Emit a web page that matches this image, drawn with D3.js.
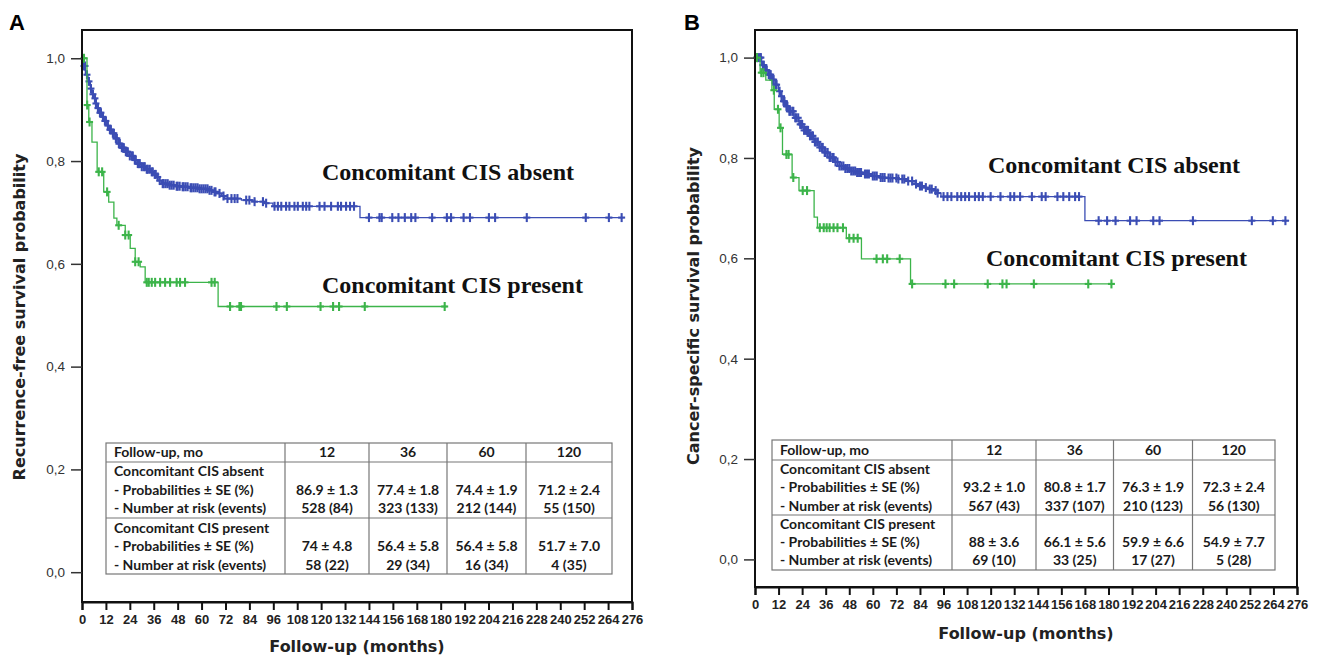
<!DOCTYPE html>
<html><head><meta charset="utf-8">
<script src="https://cdn.jsdelivr.net/npm/d3@7"></script>
<style>body{margin:0;background:#fff}svg{display:block}</style>
</head><body><svg id="c" width="1318" height="659"></svg>
<script>
// ---------------- DATA ----------------
const xTickValues = [0,12,24,36,48,60,72,84,96,108,120,132,144,156,168,180,192,204,216,228,240,252,264,276];
const yTickValues = [0,0.2,0.4,0.6,0.8,1.0];
const groupLabels = ["Concomitant CIS absent","Concomitant CIS present"];

// Panel A: recurrence-free survival (step points [month, probability])
const rfsAbsentSteps = [[0,1.0],[0.8,0.985],[1.7,0.968],[3,0.955],[4.2,0.941],[5,0.93],[5.9,0.922],[6.8,0.912],[7.6,0.903],[8.8,0.894],[10,0.886],[11.3,0.878],[12.6,0.869],[13.8,0.861],[15,0.854],[16.7,0.844],[18.4,0.834],[20,0.826],[21.7,0.818],[23.8,0.81],[25.9,0.802],[28,0.795],[30,0.789],[32,0.784],[34.2,0.779],[36,0.774],[37.5,0.769],[38.8,0.762],[40,0.756],[43.3,0.753],[47,0.751],[50,0.75],[54,0.748],[58.3,0.746],[63.3,0.743],[66,0.74],[68.3,0.737],[70,0.732],[71.6,0.727],[80,0.724],[86.6,0.721],[91.6,0.718],[95.8,0.712],[139.5,0.69]];
const rfsAbsentEnd = 271.8;
const rfsAbsentCensored = [1,1.5,2.5,3.5,4.5,5.5,6.5,7,8,9,9.5,10.5,11.5,12,13,14,14.5,15.5,16,17,17.5,18.5,19,20,20.5,21,22,22.5,23,24,25,25.5,26.5,27,28,28.5,29,30,31,31.5,32.5,33,34,35,35.5,36.5,37,38,39,40.5,41,42,43,44,45,46,47.5,48,49,50.5,51,52,53,54.5,55,56,57,58,59,60,61,62,63,64,65,66.5,67,69,71,73,75,76.6,78,82.4,84,86.6,90.8,92.4,96.6,98.3,100,102.4,104.1,106.6,108.3,110.8,112.5,114.1,119.2,121.7,125,128.4,130,132.5,134.5,136.5,144,149.3,150.4,155.7,158.8,162,165.2,167.3,175.7,183.1,185.2,191.5,194.7,204.2,207.3,223.2,252.8,264.4,270.8];

const rfsPresentSteps = [[0,1.0],[2.5,0.909],[3.4,0.876],[5,0.837],[7.6,0.779],[10.9,0.74],[13.4,0.72],[16,0.689],[17.5,0.675],[21.7,0.656],[24.2,0.63],[26.7,0.604],[29.2,0.594],[31.7,0.564],[68.3,0.517]];
const rfsPresentEnd = 183;
const rfsPresentCensored = [1,2.6,3.8,8.4,10.1,12.6,18.4,21.7,23.4,26.7,28.4,32.5,33.5,35,36.7,39.2,41.7,44.2,47.5,49.2,51.7,65,66.6,74.3,79,79.8,97.6,102.8,119.7,126,129,141.9,182];

// Panel B: cancer-specific survival
const cssAbsentSteps = [[0,1.0],[3.4,0.985],[5,0.975],[6.9,0.966],[8.5,0.956],[10.3,0.946],[12,0.933],[13,0.923],[13.8,0.913],[15.5,0.903],[17.2,0.893],[19.8,0.88],[22.4,0.867],[25,0.855],[27.5,0.844],[30,0.832],[32.7,0.821],[35.3,0.811],[37.9,0.801],[40.5,0.792],[43,0.784],[45.6,0.779],[48.2,0.774],[51.6,0.771],[55,0.768],[59.3,0.764],[63.7,0.761],[68,0.76],[72.3,0.758],[77.5,0.754],[81,0.748],[83.5,0.744],[86,0.741],[88.6,0.738],[91.2,0.735],[93,0.73],[94.7,0.723],[168,0.675]];
const cssAbsentEnd = 272;
const cssAbsentCensored = [1,1.5,2.5,3,4,4.5,5.5,6,7,7.5,8,9,9.5,10.5,11,12.5,13.5,14.5,15,16,16.5,17.5,18,19,19.5,20.5,21,22,23,23.5,24,25,26,26.5,27,28,29,29.5,30.5,31,32,33,34,34.5,35.5,36,37,38,38.5,39.5,40,41,42,43,44,45,46,47,48,49,50,51,52,53,54,56,57,58,60,61,62,64,65,66,68,69,70,72,73,75,76,78,80,82,84,85,87,89,90,92,93,96,98,100,103,105,107,109,112,114,116,120,125,130,132,135,141,146,148,154,157,160,163,165,175,179.3,183.6,191,194.3,202.8,206,223,253,263.7,270.1];

const cssPresentSteps = [[0,1.0],[2.6,0.97],[5.5,0.955],[8.6,0.935],[9.8,0.897],[12.3,0.86],[14,0.807],[18.9,0.761],[22.4,0.735],[30.1,0.682],[31.8,0.661],[46.5,0.64],[54.2,0.599],[79.2,0.549]];
const cssPresentEnd = 183;
const cssPresentCensored = [1,3.2,4.3,9.6,11.7,13,16,17.1,19.5,24.3,26.5,33,35,36.5,38,40,42,44.8,48,50.2,52.3,61.9,65.1,67.3,73.7,80,97,101.4,118.5,126,128.1,142,169.7,181.5];

// Summary tables
const tableHeaderLabel = "Follow-up, mo";
const tableTimepoints = ["12","36","60","120"];
const tableRowLabels = ["Concomitant CIS absent","- Probabilities ± SE (%)","- Number at risk (events)","Concomitant CIS present","- Probabilities ± SE (%)","- Number at risk (events)"];
const rfsAbsentProb = ["86.9 ± 1.3","77.4 ± 1.8","74.4 ± 1.9","71.2 ± 2.4"];
const rfsAbsentRisk = ["528 (84)","323 (133)","212 (144)","55 (150)"];
const rfsPresentProb = ["74 ± 4.8","56.4 ± 5.8","56.4 ± 5.8","51.7 ± 7.0"];
const rfsPresentRisk = ["58 (22)","29 (34)","16 (34)","4 (35)"];
const cssAbsentProb = ["93.2 ± 1.0","80.8 ± 1.7","76.3 ± 1.9","72.3 ± 2.4"];
const cssAbsentRisk = ["567 (43)","337 (107)","210 (123)","56 (130)"];
const cssPresentProb = ["88 ± 3.6","66.1 ± 5.6","59.9 ± 6.6","54.9 ± 7.7"];
const cssPresentRisk = ["69 (10)","33 (25)","17 (27)","5 (28)"];

// ---------------- DRAWING ----------------
const svg = d3.select("#c");
const BLUE = "#3b4db4", GREEN = "#3cb44a";
const commaLocale = d3.formatLocale({decimal:",", thousands:".", grouping:[3], currency:["",""]});
const yFmt = commaLocale.format(".1f");
const SANS = "'DejaVu Sans','Liberation Sans',Arial,sans-serif";

function stepAt(steps, t){ let s = steps[0][1]; for(const p of steps){ if(p[0] <= t) s = p[1]; else break; } return s; }

function panel(cfg){
  const g = svg.append("g");
  const x = d3.scaleLinear().domain([0,276]).range([cfg.left, cfg.right]);
  const y = d3.scaleLinear().domain([cfg.yMin, cfg.yMax]).range([cfg.bottom, cfg.top]);

  // curves
  const line = d3.line().x(d=>x(d[0])).y(d=>y(d[1])).curve(d3.curveStepAfter);
  cfg.series.forEach(s=>{
    const pts = s.steps.concat([[s.end, s.steps[s.steps.length-1][1]]]);
    g.append("path").attr("d", line(pts)).attr("fill","none").attr("stroke", s.color).attr("stroke-width",1.3);
    const cg = g.append("g").attr("stroke", s.color).attr("stroke-width",2.1);
    s.censored.forEach(t=>{
      const cx = x(t), cy = y(stepAt(s.steps, t));
      cg.append("line").attr("x1",cx).attr("x2",cx).attr("y1",cy-4.5).attr("y2",cy+4.5);
      cg.append("line").attr("x1",cx-3.5).attr("x2",cx+3.5).attr("y1",cy).attr("y2",cy);
    });
  });

  // box
  g.append("rect").attr("x",cfg.left).attr("y",cfg.top).attr("width",cfg.right-cfg.left).attr("height",cfg.bottom-cfg.top)
    .attr("fill","none").attr("stroke","#111").attr("stroke-width",2);

  // axes
  const xa = g.append("g").attr("transform",`translate(0,${cfg.bottom})`)
    .call(d3.axisBottom(x).tickValues(xTickValues).tickSize(8).tickPadding(5).tickFormat(d3.format("d")));
  xa.select(".domain").attr("stroke","#111").attr("stroke-width",2);
  xa.selectAll(".tick line").attr("stroke","#111").attr("stroke-width",2);
  xa.selectAll("text").attr("font-family","'Liberation Sans Narrow','Liberation Sans',Arial,sans-serif").attr("font-size",13).attr("font-weight","bold").attr("fill","#222");

  const ya = g.append("g").attr("transform",`translate(${cfg.left},0)`)
    .call(d3.axisLeft(y).tickValues(yTickValues).tickSize(11).tickPadding(6).tickFormat(yFmt));
  ya.select(".domain").remove();
  ya.selectAll(".tick line").attr("stroke","#333").attr("stroke-width",1.5);
  ya.selectAll("text").attr("font-family","'Liberation Sans',Arial,sans-serif").attr("font-size",13.5).attr("fill","#333");

  // titles
  g.append("text").attr("x",cfg.letterX).attr("y",30).text(cfg.letter)
    .attr("font-family","'Liberation Sans',Arial,sans-serif").attr("font-weight","bold").attr("font-size",22);
  g.append("text").attr("transform",`translate(${cfg.yTitleX},${cfg.yTitleY}) rotate(-90)`)
    .attr("text-anchor","middle").attr("dy","0.35em").text(cfg.yTitle)
    .attr("font-family",SANS).attr("font-weight","bold").attr("font-size",16).attr("fill","#222");
  g.append("text").attr("x",(cfg.left+cfg.right)/2).attr("y",cfg.xTitleY).attr("text-anchor","middle").attr("dy","0.35em")
    .text("Follow-up (months)")
    .attr("font-family",SANS).attr("font-weight","bold").attr("font-size",16).attr("fill","#222");

  // group labels
  cfg.labels.forEach((lab,i)=>{
    g.append("text").attr("x",lab.x).attr("y",lab.y).attr("dy","0.35em").text(groupLabels[i])
      .attr("font-family","'Liberation Serif','Times New Roman',serif").attr("font-weight","bold").attr("font-size",24).attr("fill","#111");
  });

  // table
  const T = cfg.table;
  const tg = g.append("g");
  tg.append("rect").attr("x",T.left).attr("y",T.top).attr("width",T.right-T.left).attr("height",T.bottom-T.top)
    .attr("fill","#fff").attr("stroke","#777").attr("stroke-width",1.2);
  [T.hdr, T.mid].forEach(yy=>tg.append("line").attr("x1",T.left).attr("x2",T.right).attr("y1",yy).attr("y2",yy).attr("stroke","#777").attr("stroke-width",1.2));
  T.cols.forEach(xx=>tg.append("line").attr("x1",xx).attr("x2",xx).attr("y1",T.top).attr("y2",T.bottom).attr("stroke","#777").attr("stroke-width",1.2));
  const tf = (sel)=>sel.attr("font-family","Lato,'Open Sans',sans-serif").attr("font-weight","bold").attr("font-size",14).attr("fill","#1a1a1a").attr("dy","0.35em");
  tf(tg.append("text").attr("x",T.left+8).attr("y",T.rows[0]).text(tableHeaderLabel));
  const colEdges = T.cols.concat([T.right]);
  tableTimepoints.forEach((tp,i)=>{
    tf(tg.append("text").attr("x",(colEdges[i]+colEdges[i+1])/2).attr("y",T.rows[0]).attr("text-anchor","middle").text(tp));
  });
  tableRowLabels.forEach((lab,i)=>{
    tf(tg.append("text").attr("x",T.left+8).attr("y",T.rows[i+1]).text(lab));
  });
  const rowsData = [[2,cfg.tbl[0]],[3,cfg.tbl[1]],[5,cfg.tbl[2]],[6,cfg.tbl[3]]];
  rowsData.forEach(([ri,vals])=>{
    vals.forEach((v,i)=>{
      tf(tg.append("text").attr("x",(colEdges[i]+colEdges[i+1])/2).attr("y",T.rows[ri]).attr("text-anchor","middle").text(v));
    });
  });
}

panel({
  left:82, right:632, top:30, bottom:602, yMin:-0.058, yMax:1.055,
  letter:"A", letterX:9, yTitle:"Recurrence-free survival probability", yTitleX:19, yTitleY:317, xTitleY:646,
  series:[
    {steps:rfsAbsentSteps, end:rfsAbsentEnd, censored:rfsAbsentCensored, color:BLUE},
    {steps:rfsPresentSteps, end:rfsPresentEnd, censored:rfsPresentCensored, color:GREEN}
  ],
  labels:[{x:322,y:172},{x:322,y:285}],
  table:{left:106, right:612, top:443, hdr:462, mid:518, bottom:574, cols:[285,369,447,526],
         rows:[452.5,471.5,490,508.5,528,546.5,565]},
  tbl:[rfsAbsentProb, rfsAbsentRisk, rfsPresentProb, rfsPresentRisk]
});

panel({
  left:755, right:1297, top:30, bottom:587, yMin:-0.055, yMax:1.055,
  letter:"B", letterX:684, yTitle:"Cancer-specific survival probability", yTitleX:693, yTitleY:306, xTitleY:633,
  series:[
    {steps:cssAbsentSteps, end:cssAbsentEnd, censored:cssAbsentCensored, color:BLUE},
    {steps:cssPresentSteps, end:cssPresentEnd, censored:cssPresentCensored, color:GREEN}
  ],
  labels:[{x:988,y:165},{x:986,y:258}],
  table:{left:772, right:1275, top:440, hdr:460, mid:515, bottom:570, cols:[952,1036,1113.5,1192.5],
         rows:[450,469.5,487.5,506,524.5,542.5,560.5]},
  tbl:[cssAbsentProb, cssAbsentRisk, cssPresentProb, cssPresentRisk]
});
</script></body></html>
